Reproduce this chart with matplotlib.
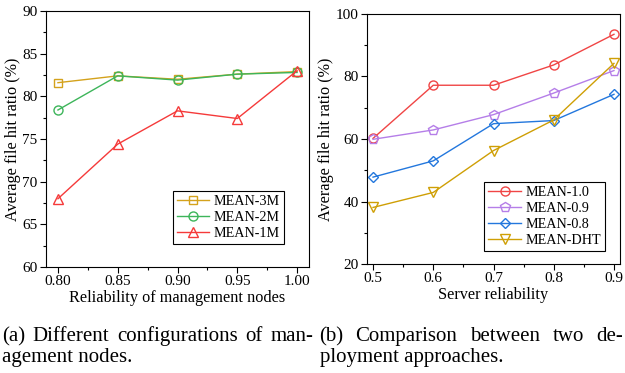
import matplotlib.pyplot as plt
from matplotlib.ticker import MultipleLocator

plt.rcParams['font.family'] = ['Liberation Serif', 'DejaVu Serif']

# (a) reliability of management nodes
mgmt_rel = [0.80, 0.85, 0.90, 0.95, 1.00]
mean_3m = [81.6, 82.4, 82.0, 82.6, 82.9]
mean_2m = [78.4, 82.4, 81.9, 82.6, 82.8]
mean_1m = [68.0, 74.4, 78.3, 77.4, 83.0]

# (b) server reliability
server_rel = [0.5, 0.6, 0.7, 0.8, 0.9]
mean_10 = [60.2, 77.2, 77.2, 83.7, 93.5]
mean_09 = [59.9, 62.9, 67.8, 74.7, 81.9]
mean_08 = [47.8, 53.0, 64.9, 65.9, 74.3]
mean_dht = [38.1, 42.9, 56.3, 66.1, 84.2]

fig = plt.figure(figsize=(6.25, 3.73), dpi=100)
ax1 = fig.add_axes([0.0736, 0.2842, 0.4208, 0.6863])
ax2 = fig.add_axes([0.5872, 0.2922, 0.4048, 0.6703])

mk = dict(markerfacecolor='none', linewidth=1.0, markeredgewidth=1.0)
ax1.plot(mgmt_rel, mean_3m, marker='s', ms=6, color='#d4a21c', label='MEAN-3M', **mk)
ax1.plot(mgmt_rel, mean_2m, marker='o', ms=6.5, color='#3db55a', label='MEAN-2M', **mk)
ax1.plot(mgmt_rel, mean_1m, marker='^', ms=7.5, color='#f53a3a', label='MEAN-1M', **mk)
ax1.set_xlim(0.79, 1.01)
ax1.set_ylim(60, 90)
ax1.set_xticks(mgmt_rel)
ax1.set_xticklabels(['%.2f' % v for v in mgmt_rel])
ax1.xaxis.set_minor_locator(MultipleLocator(0.025))
ax1.yaxis.set_major_locator(MultipleLocator(5))
ax1.yaxis.set_minor_locator(MultipleLocator(2.5))
ax1.set_xlabel('Reliability of management nodes', fontsize=11.7, labelpad=1)
ax1.set_ylabel('Average file hit ratio (%)', fontsize=11.7, labelpad=1)
leg1 = ax1.legend(loc='lower right', bbox_to_anchor=(0.905, 0.09), fontsize=10.2,
                  fancybox=False, edgecolor='black', framealpha=1, borderaxespad=0,
                  borderpad=0.3, labelspacing=0.2, handlelength=2.3, handletextpad=0.3)
leg1.get_frame().set_linewidth(0.8)

ax2.plot(server_rel, mean_10, marker='o', ms=6.5, color='#f04545', label='MEAN-1.0', **mk)
ax2.plot(server_rel, mean_09, marker='p', ms=7, color='#b57ee8', label='MEAN-0.9', **mk)
ax2.plot(server_rel, mean_08, marker='D', ms=5.5, color='#2377dd', label='MEAN-0.8', **mk)
ax2.plot(server_rel, mean_dht, marker='v', ms=7.5, color='#cf9f05', label='MEAN-DHT', **mk)
ax2.set_xlim(0.49, 0.91)
ax2.set_ylim(20, 100)
ax2.xaxis.set_major_locator(MultipleLocator(0.1))
ax2.xaxis.set_minor_locator(MultipleLocator(0.05))
ax2.yaxis.set_major_locator(MultipleLocator(20))
ax2.yaxis.set_minor_locator(MultipleLocator(10))
ax2.set_xlabel('Server reliability', fontsize=11.7, labelpad=1)
ax2.set_ylabel('Average file hit ratio (%)', fontsize=11.7, labelpad=1)
leg2 = ax2.legend(loc='lower right', bbox_to_anchor=(0.941, 0.052), fontsize=10.2,
                  fancybox=False, edgecolor='black', framealpha=1, borderaxespad=0,
                  borderpad=0.3, labelspacing=0.2, handlelength=2.3, handletextpad=0.3)
leg2.get_frame().set_linewidth(0.8)

for ax in (ax1, ax2):
    ax.tick_params(which='both', direction='out', labelsize=11, width=0.8)
    ax.tick_params(which='major', length=4, pad=2)
    ax.tick_params(which='minor', length=2)
    for s in ax.spines.values():
        s.set_linewidth(0.8)

# captions; the first line of each is justified word by word between x0 and x1 (pixels)
cap = dict(fontsize=15, va='baseline')
W = 625.0
H = 373.0
y1 = 1 - 341 / H
y2 = 1 - 362 / H


def justified(words, x0, x1, y):
    renderer = fig.canvas.get_renderer()
    texts = [fig.text(0, y, w, **cap) for w in words]
    widths = [t.get_window_extent(renderer).width for t in texts]
    gap = (x1 - x0 - sum(widths)) / (len(words) - 1)
    x = x0
    for t, w in zip(texts, widths):
        t.set_x(x / W)
        x += w + gap


justified(['(a)', 'Different', 'configurations', 'of', 'man-'], 2, 313, y1)
fig.text(2 / W, y2, 'agement nodes.', **cap)
justified(['(b)', 'Comparison', 'between', 'two', 'de-'], 319, 623, y1)
fig.text(320 / W, y2, 'ployment approaches.', **cap)

fig.savefig('out.png', dpi=100)
